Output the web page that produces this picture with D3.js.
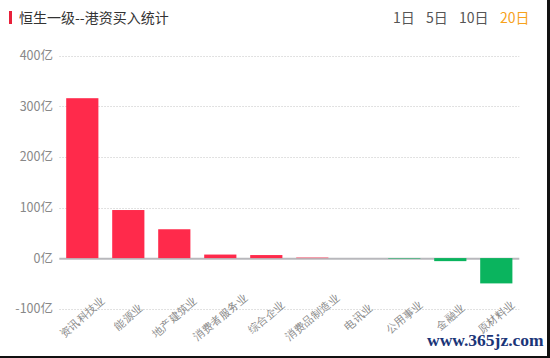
<!DOCTYPE html>
<html><head><meta charset="utf-8">
<script src="https://cdn.jsdelivr.net/npm/d3@7"></script>
<style>
html,body{margin:0;padding:0;background:#fff;}
svg{display:block;font-family:"Noto Sans CJK SC","Noto Sans",sans-serif;}
</style></head>
<body>
<svg id="chart" width="550" height="358"></svg>
<script>
const categories = ["资讯科技业","能源业","地产建筑业","消费者服务业","综合企业","消费品制造业","电讯业","公用事业","金融业","原材料业"];
const values = [316, 95, 57, 7, 6, 1, 0, -1, -6, -50];
const yTicks = [-100, 0, 100, 200, 300, 400];
const periods = ["1日","5日","10日","20日"];
const activePeriod = "20日";
const title = "恒生一级--港资买入统计";

const svg = d3.select("#chart");
const x = d3.scaleBand().domain(categories).range([59.3, 519.3]).paddingInner(0.3).paddingOuter(0.15);
const y = d3.scaleLinear().domain([-100, 400]).range([308.7, 55.7]);

// title
svg.append("rect").attr("x", 9).attr("y", 11).attr("width", 3).attr("height", 13).attr("fill", "#e8203a");
svg.append("text").attr("x", 19).attr("y", 23).attr("font-size", 14).attr("fill", "#333").text(title);
const px = [393, 426, 459, 500];
periods.forEach((p, i) => {
  svg.append("text").attr("x", px[i]).attr("y", 23).attr("font-size", 14)
    .attr("fill", p === activePeriod ? "#f7a21b" : "#555").text(p);
});

// grid
const grid = svg.append("g");
grid.selectAll("line").data(yTicks.filter(d => d !== 0)).join("line")
  .attr("x1", 59.3).attr("x2", 519.3)
  .attr("y1", d => Math.round(y(d)) + 0.5).attr("y2", d => Math.round(y(d)) + 0.5)
  .attr("stroke", "#d8d8d8").attr("stroke-width", 1).attr("stroke-dasharray", "1.5,1.5");

// y axis labels
const yAxis = d3.axisLeft(y).tickValues(yTicks).tickSize(0).tickPadding(0).tickFormat(d => d + "亿");
const yg = svg.append("g").attr("transform", "translate(53,0)").call(yAxis);
yg.select(".domain").remove();
yg.selectAll("text").attr("font-size", 12.5).attr("fill", "#888").attr("font-family", "\"Noto Sans CJK SC\",sans-serif");

// zero line
svg.append("line").attr("x1", 59.3).attr("x2", 519.3).attr("y1", y(0) + 0.6).attr("y2", y(0) + 0.6)
  .attr("stroke", "#b8b8bc").attr("stroke-width", 2);

// bars (drawn over the zero line so tiny values stay visible)
svg.append("g").selectAll("rect").data(categories).join("rect")
  .attr("x", (d) => x(d))
  .attr("width", x.bandwidth())
  .attr("y", (d, i) => y(Math.max(0, values[i])))
  .attr("height", (d, i) => Math.abs(y(values[i]) - y(0)))
  .attr("fill", (d, i) => values[i] >= 0 ? "#ff2a4b" : "#0ab45e");

// x labels
const xAxis = d3.axisBottom(x).tickSize(0).tickPadding(0);
const xg = svg.append("g").attr("transform", "translate(0,317)").call(xAxis);
xg.select(".domain").remove();
xg.selectAll("text").attr("font-size", 10.8).attr("fill", "#888")
  .attr("y", 0).attr("dy", "0.35em").attr("text-anchor", "middle")
  .attr("transform", "rotate(-40)");

// watermark
svg.append("text").attr("x", 427).attr("y", 346).attr("font-size", 17.5).attr("font-weight", "bold")
  .attr("font-family", "\"Liberation Serif\",\"DejaVu Serif\",serif")
  .attr("fill", "#1a3578").text("www.365jz.com");

// frame edges
svg.append("line").attr("x1", 548.5).attr("x2", 548.5).attr("y1", 0).attr("y2", 358).attr("stroke", "#111").attr("stroke-width", 3);
svg.append("line").attr("x1", 0).attr("x2", 550).attr("y1", 357).attr("y2", 357).attr("stroke", "#111").attr("stroke-width", 2);
</script>
</body></html>
